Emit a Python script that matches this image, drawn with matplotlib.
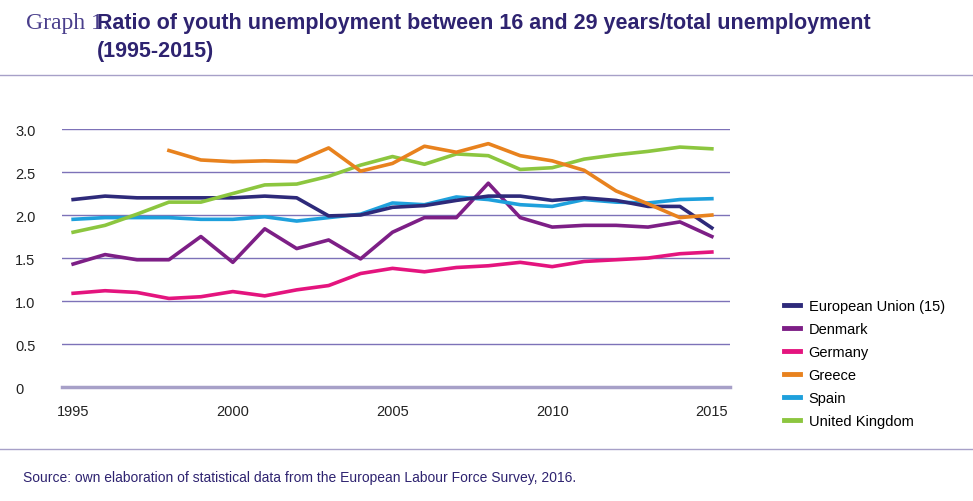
import matplotlib
matplotlib.use("Agg")
import matplotlib.pyplot as plt
from matplotlib.lines import Line2D

years = list(range(1995, 2016))
eu = [2.18,2.22,2.20,2.20,2.20,2.20,2.22,2.20,1.99,2.00,2.09,2.11,2.17,2.22,2.22,2.17,2.20,2.17,2.10,2.10,1.85]
denmark = [1.43,1.54,1.48,1.48,1.75,1.45,1.84,1.61,1.71,1.49,1.80,1.97,1.97,2.37,1.97,1.86,1.88,1.88,1.86,1.92,1.75]
germany = [1.09,1.12,1.10,1.03,1.05,1.11,1.06,1.13,1.18,1.32,1.38,1.34,1.39,1.41,1.45,1.40,1.46,1.48,1.50,1.55,1.57]
greece_years = list(range(1998, 2016))
greece = [2.75,2.64,2.62,2.63,2.62,2.78,2.51,2.60,2.80,2.73,2.83,2.69,2.63,2.52,2.28,2.13,1.97,2.00]
spain = [1.95,1.97,1.97,1.97,1.95,1.95,1.98,1.93,1.97,2.01,2.14,2.12,2.21,2.18,2.12,2.10,2.18,2.15,2.14,2.18,2.19]
uk = [1.80,1.88,2.01,2.15,2.15,2.25,2.35,2.36,2.45,2.58,2.68,2.59,2.71,2.69,2.53,2.55,2.65,2.70,2.74,2.79,2.77]
yticks = [0, 0.5, 1.0, 1.5, 2.0, 2.5, 3.0]
ytick_labels = ["0", "0.5", "1.0", "1.5", "2.0", "2.5", "3.0"]
xticks = [1995, 2000, 2005, 2010, 2015]

plt.rcParams['font.family'] = ['Liberation Sans', 'DejaVu Sans']
fig = plt.figure(figsize=(9.73, 5.02), dpi=100)
ax = fig.add_axes([0.064, 0.227, 0.686, 0.514])

series = [
    ("European Union (15)", years, eu, "#2e2a7a"),
    ("Denmark", years, denmark, "#7d1f86"),
    ("Germany", years, germany, "#e4147e"),
    ("Greece", greece_years, greece, "#e8821e"),
    ("Spain", years, spain, "#1ea0dc"),
    ("United Kingdom", years, uk, "#8cc63f"),
]
order = [2, 1, 4, 0, 5, 3]
for i in order:
    n, x, y, c = series[i]
    ax.plot(x, y, color=c, lw=2.6, zorder=3)

ax.set_xlim(1994.66, 2015.56)
ax.set_ylim(0, 3.0)
for v in yticks[1:]:
    ax.axhline(v, color="#7d72b8", lw=1.0, zorder=1)
ax.axhline(0, color="#a7a0c8", lw=2.5, zorder=1, clip_on=False)
for s in ax.spines.values():
    s.set_visible(False)
ax.set_yticks(yticks)
ax.set_yticklabels(ytick_labels)
ax.set_xticks(xticks)
ax.tick_params(length=0, labelsize=10.5, colors="#222222")
ax.tick_params(axis='y', pad=0)
for lab in ax.get_yticklabels():
    lab.set_horizontalalignment('left')
ax.yaxis.set_tick_params(pad=34)
ax.tick_params(axis='x', pad=12)

handles = [Line2D([0], [0], color=c, lw=3.5) for _, _, _, c in series]
fig.legend(handles, [s[0] for s in series], loc="upper left", bbox_to_anchor=(0.792, 0.428),
           frameon=False, fontsize=10.5, handlelength=1.1, labelspacing=0.62, handletextpad=0.6)

fig.text(0.027, 0.953, "Graph 1.", fontsize=17, family="Liberation Serif", color="#4a3f8c", va="center")
fig.text(0.100, 0.953, "Ratio of youth unemployment between 16 and 29 years/total unemployment",
         fontsize=15.5, fontweight="bold", color="#2e2370", va="center")
fig.text(0.100, 0.898, "(1995-2015)", fontsize=15.5, fontweight="bold", color="#2e2370", va="center")
fig.add_artist(Line2D([0, 1], [0.848, 0.848], color="#a7a0c8", lw=1))
fig.add_artist(Line2D([0, 1], [0.103, 0.103], color="#a7a0c8", lw=1))
fig.text(0.024, 0.048, "Source: own elaboration of statistical data from the European Labour Force Survey, 2016.",
         fontsize=10, color="#2e2370", va="center")
fig.savefig("out.png", dpi=100, facecolor="white")
